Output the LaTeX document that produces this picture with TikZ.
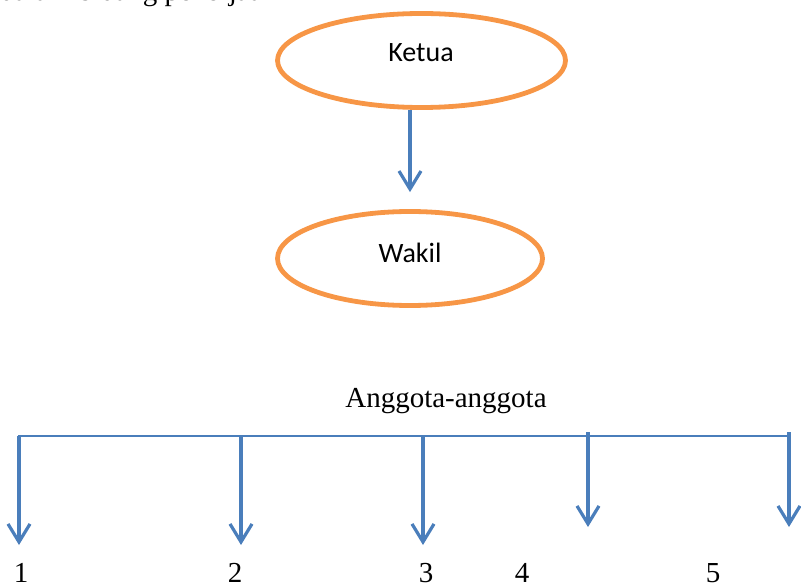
\documentclass[tikz,border=0pt]{standalone}
\usepackage{fontspec}
\setmainfont{Liberation Serif}
\newfontfamily\calib{Carlito}
\usetikzlibrary{shapes.geometric,arrows.meta}
\definecolor{orgline}{HTML}{F79646}
\definecolor{bluline}{HTML}{4A7EBB}
\tikzset{
  oval/.style={ellipse, draw=orgline, line width=4.8pt, inner sep=0pt},
  ovaltext/.style={font=\calib\fontsize{28}{32}\selectfont, inner sep=0pt},
  serif/.style={font=\fontsize{29}{34}\selectfont, inner sep=0pt, anchor=base},
  bline/.style={draw=bluline, line width=3.2pt},
  barline/.style={draw=bluline, line width=2.4pt},
  barrow/.style={bline, -{Straight Barb[length=18pt,width=22pt,line width=3.2pt]}},
}
\begin{document}
\begin{tikzpicture}[x=1pt,y=-1pt]
\useasboundingbox (0,0) rectangle (801,585);
% partially cut top line
\node[serif, anchor=base west] (toptext) at (0,0.5) {dalam bidang pekerjaan};
% ovals
\node[oval, minimum width=288pt, minimum height=94pt] (ketua) at (421.5,60.5) {};
\node[ovaltext] (ketuatext) at (421,53) {Ketua};
\node[oval, minimum width=265pt, minimum height=94pt] (wakil) at (410,258.5) {};
\node[ovaltext] (wakiltext) at (410,253) {Wakil};
\draw[barrow] (ketua.south -| wakil.north) -- ([yshift=17pt]wakil.north);
% members
\node[serif] (anggota) at (446,407) {Anggota-anggota};
\node[serif] (n1) at (21,582) {1};
\node[serif] (n2) at (235,582) {2};
\node[serif] (n3) at (426,582) {3};
\node[serif] (n4) at (522,582) {4};
\node[serif] (n5) at (713,582) {5};
\coordinate (bl) at (18,436);
\coordinate (br) at (789,436);
\coordinate (t1) at (19,545);
\coordinate (t2) at (241,545);
\coordinate (t3) at (423,545);
\coordinate (s4) at (588,432);
\coordinate (t4) at (588,527);
\coordinate (s5) at (789,432);
\coordinate (t5) at (789,527);
\draw[barline] (bl) -- (br);
\draw[barrow] (bl -| t1) -- (t1);
\draw[barrow] (bl -| t2) -- (t2);
\draw[barrow] (bl -| t3) -- (t3);
\draw[barrow] (s4) -- (t4);
\draw[barrow] (s5) -- (t5);
\end{tikzpicture}
\end{document}
